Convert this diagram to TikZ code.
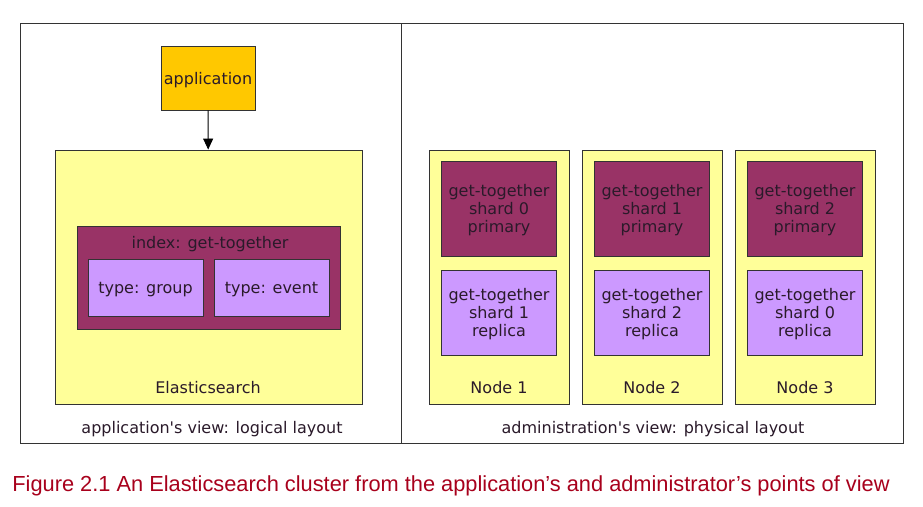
\documentclass[tikz,border=0pt]{standalone}
\usepackage{fontspec}
\setmainfont{DejaVu Sans}
\newfontfamily\capfont{Liberation Sans}
\usetikzlibrary{arrows.meta}
\definecolor{appfill}{HTML}{FFC800}
\definecolor{hostfill}{HTML}{FFFF99}
\definecolor{idxfill}{HTML}{993366}
\definecolor{typefill}{HTML}{CC99FF}
\definecolor{inktext}{HTML}{2A1A2A}
\definecolor{capred}{HTML}{A8001C}

\begin{document}
\begin{tikzpicture}[x=1pt,y=-1pt,
    box/.style={draw=black!80,line width=0.9pt,inner sep=0pt,align=center,text=inktext,
      text depth=0pt,font=\fontsize{16}{18}\selectfont},
    viewbox/.style={draw=black!80,line width=0.9pt,inner sep=0pt},
    hostbox/.style={box,fill=hostfill},
    primbox/.style={box,fill=idxfill,minimum width=115,minimum height=95},
    repbox/.style={box,fill=typefill,minimum width=115,minimum height=85},
    lbl/.style={inner sep=0pt,text=inktext,text depth=0pt,font=\fontsize{16}{18}\selectfont}]
  \useasboundingbox (0,0) rectangle (923,506);
  \fill[white] (0,0) rectangle (923,506);
  % the two views
  \node[viewbox,minimum width=381,minimum height=420] (logical) at (210.5,233) {};
  \node[viewbox,minimum width=502,minimum height=420] (physical) at (652,233) {};
  \node[lbl] (logicallbl) at (212,427) {application\textquotesingle s view: logical layout};
  \node[lbl] (physicallbl) at (653,427) {administration\textquotesingle s view: physical layout};
  % logical layout
  \node[box,fill=appfill,minimum width=94,minimum height=64] (app) at (208,78) {application};
  \node[hostbox,minimum width=307,minimum height=254] (es) at (208.5,277) {};
  \node[lbl] (eslbl) at (208,387) {Elasticsearch};
  \node[box,fill=idxfill,minimum width=263,minimum height=103] (index) at (208.5,277.5) {};
  \node[lbl] (indexlbl) at (210,242) {index: get-together};
  \node[box,fill=typefill,minimum width=115,minimum height=57] (group) at (145.5,287.5) {type: group};
  \node[box,fill=typefill,minimum width=115,minimum height=57] (event) at (271.5,287.5) {type: event};
  \draw[-{Triangle[length=11pt,width=10pt]},line width=0.9pt] (app) -- (es);
  % physical layout
  \foreach \n/\x/\p/\r in {1/499/0/1,2/652/1/2,3/805/2/0} {
    \node[hostbox,minimum width=140,minimum height=254] (node\n) at (\x,277) {};
    \node[primbox] (prim\n) at (\x,208.5) {get-together\\shard \p\\primary};
    \node[repbox] (rep\n) at (\x,312.5) {get-together\\shard \r\\replica};
    \node[lbl] (nodelbl\n) at (\x,387) {Node \n};
  }
  \node[inner sep=0pt,text=capred,text depth=0pt,font=\capfont\fontsize{21.8}{24}\selectfont] (caption) at (451,484)
    {Figure 2.1 An Elasticsearch cluster from the application’s and administrator’s points of view};
\end{tikzpicture}
\end{document}
